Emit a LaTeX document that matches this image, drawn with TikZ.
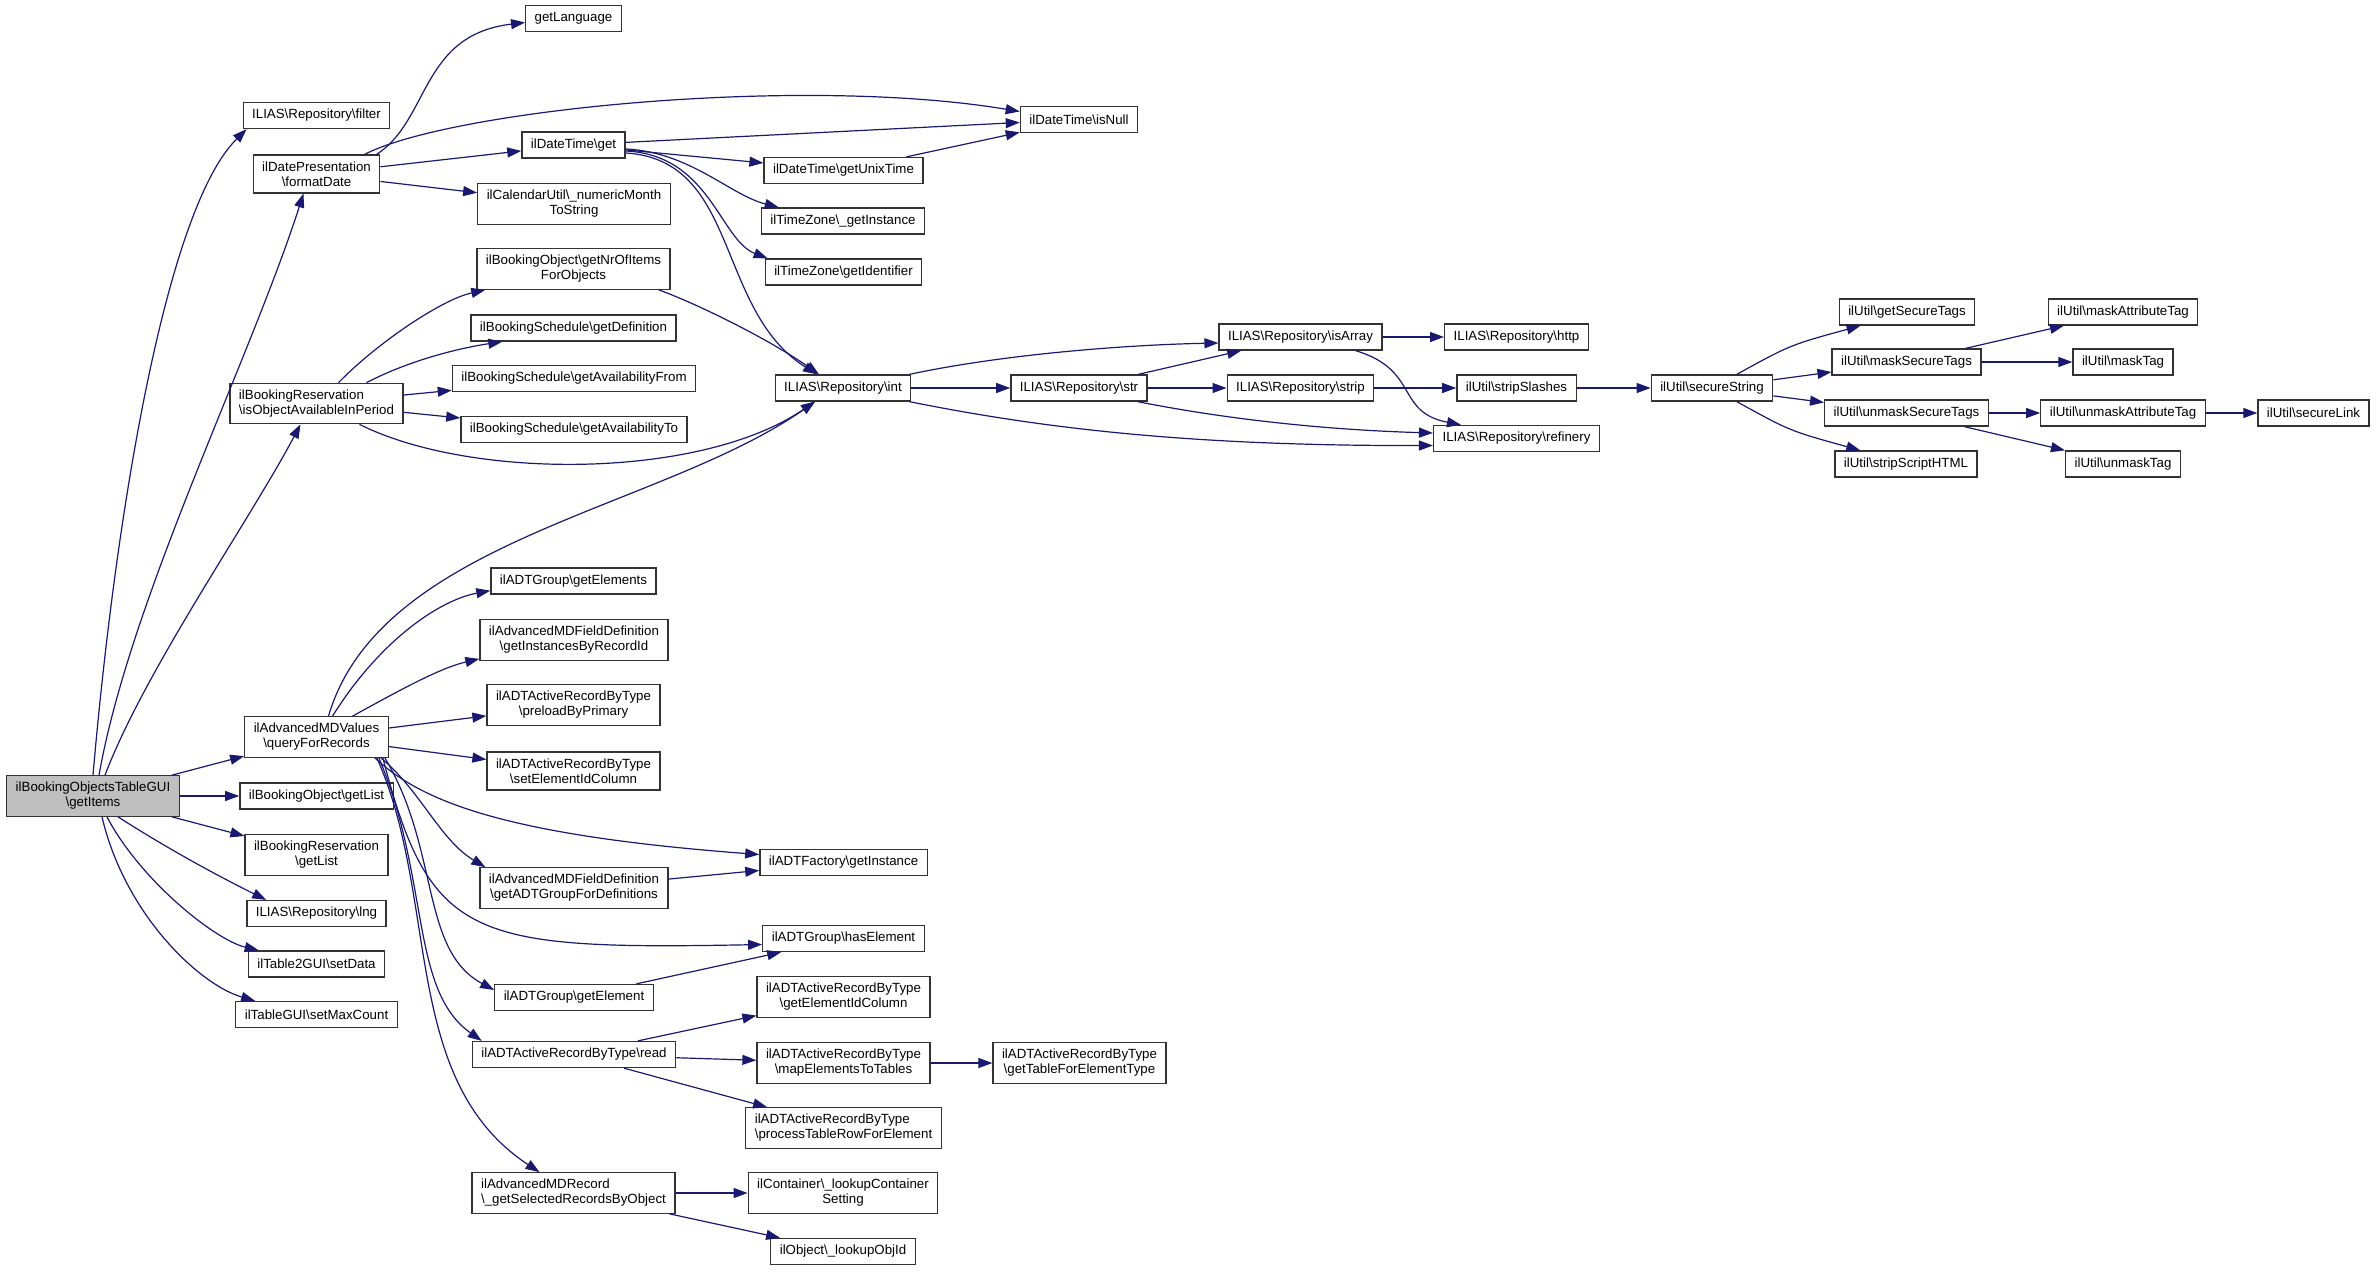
\documentclass[tikz,border=0pt]{standalone}
\usepackage{fontspec}
\usepackage{tikz}
\usetikzlibrary{arrows.meta}
\newfontfamily\graphfont{Liberation Sans}
\definecolor{edgeblue}{HTML}{191970}
\newcommand{\bsl}{\textbackslash{}}

\begin{document}
\begin{tikzpicture}[x=1pt,y=-1pt]
\tikzstyle{fn}=[draw=black!80,line width=1.3pt,fill=white,inner xsep=9pt,inner ysep=6.5pt,minimum height=26pt,align=center,font=\graphfont\fontsize{13.3}{15}\selectfont];
\tikzstyle{root}=[fn,fill=black!25];
\tikzstyle{call}=[draw=edgeblue,line width=1.2pt,-{Triangle[length=14pt,width=10pt]}];
\useasboundingbox (0,0) rectangle (2376,1271);

% callers on the left
\node[root] (root) at (93,796) {ilBookingObjectsTableGUI\\\bsl getItems};
\node[fn] (filter) at (316.5,115.5) {ILIAS\bsl Repository\bsl filter};
\node[fn] (fmtDate) at (316.5,174) {ilDatePresentation\\\bsl formatDate};
\node[fn,align=left] (availPeriod) at (316.5,403.5) {ilBookingReservation\\\bsl isObjectAvailableInPeriod};
\node[fn] (queryRec) at (316.5,737) {ilAdvancedMDValues\\\bsl queryForRecords};
\node[fn] (objList) at (316.5,796) {ilBookingObject\bsl getList};
\node[fn] (resList) at (316.5,855) {ilBookingReservation\\\bsl getList};
\node[fn] (repLng) at (316.5,913.5) {ILIAS\bsl Repository\bsl lng};
\node[fn] (setData) at (316.5,964) {ilTable2GUI\bsl setData};
\node[fn] (maxCount) at (316.5,1014.5) {ilTableGUI\bsl setMaxCount};

% second column
\node[fn] (getLang) at (573.5,18.5) {getLanguage};
\node[fn] (dtGet) at (573.5,145) {ilDateTime\bsl get};
\node[fn] (numMonth) at (574,204) {ilCalendarUtil\bsl\_numericMonth\\ToString};
\node[fn] (nrItems) at (573.5,269) {ilBookingObject\bsl getNrOfItems\\ForObjects};
\node[fn] (schedDef) at (573.5,328) {ilBookingSchedule\bsl getDefinition};
\node[fn] (availFrom) at (574,378.5) {ilBookingSchedule\bsl getAvailabilityFrom};
\node[fn] (availTo) at (574,429.5) {ilBookingSchedule\bsl getAvailabilityTo};
\node[fn] (getElems) at (573.5,581) {ilADTGroup\bsl getElements};
\node[fn] (instByRec) at (574,640) {ilAdvancedMDFieldDefinition\\\bsl getInstancesByRecordId};
\node[fn] (preload) at (573.5,705) {ilADTActiveRecordByType\\\bsl preloadByPrimary};
\node[fn] (setElemCol) at (573.5,771) {ilADTActiveRecordByType\\\bsl setElementIdColumn};
\node[fn] (adtGroupDef) at (574,888) {ilAdvancedMDFieldDefinition\\\bsl getADTGroupForDefinitions};
\node[fn] (getElem) at (574,997.5) {ilADTGroup\bsl getElement};
\node[fn] (arRead) at (574,1054.5) {ilADTActiveRecordByType\bsl read};
\node[fn,align=left] (selRecords) at (573.5,1193) {ilAdvancedMDRecord\\\bsl\_getSelectedRecordsByObject};

% third column
\node[fn] (unixTime) at (843.5,170.5) {ilDateTime\bsl getUnixTime};
\node[fn] (tzInst) at (843,221) {ilTimeZone\bsl\_getInstance};
\node[fn] (tzIdent) at (843.5,272) {ilTimeZone\bsl getIdentifier};
\node[fn] (repInt) at (843,388) {ILIAS\bsl Repository\bsl int};
\node[fn] (factInst) at (843.5,862.5) {ilADTFactory\bsl getInstance};
\node[fn] (hasElem) at (843.5,938.5) {ilADTGroup\bsl hasElement};
\node[fn] (elemIdCol) at (843.5,997) {ilADTActiveRecordByType\\\bsl getElementIdColumn};
\node[fn] (mapElems) at (843.5,1063) {ilADTActiveRecordByType\\\bsl mapElementsToTables};
\node[fn,align=left] (procRow) at (843.5,1128) {ilADTActiveRecordByType\\\bsl processTableRowForElement};
\node[fn] (lookupCont) at (843,1193) {ilContainer\bsl\_lookupContainer\\Setting};
\node[fn] (lookupObj) at (843,1251.5) {ilObject\bsl\_lookupObjId};

% further right
\node[fn] (isNull) at (1079,119.5) {ilDateTime\bsl isNull};
\node[fn] (repStr) at (1079,388) {ILIAS\bsl Repository\bsl str};
\node[fn] (tableType) at (1079.5,1063) {ilADTActiveRecordByType\\\bsl getTableForElementType};
\node[fn] (isArray) at (1300.5,337) {ILIAS\bsl Repository\bsl isArray};
\node[fn] (repStrip) at (1300.5,388) {ILIAS\bsl Repository\bsl strip};
\node[fn] (repHttp) at (1516.5,337) {ILIAS\bsl Repository\bsl http};
\node[fn] (stripSl) at (1516.5,388) {ilUtil\bsl stripSlashes};
\node[fn] (refinery) at (1516.5,438.5) {ILIAS\bsl Repository\bsl refinery};
\node[fn] (secStr) at (1712,388) {ilUtil\bsl secureString};
\node[fn] (getSecTags) at (1907,312) {ilUtil\bsl getSecureTags};
\node[fn] (maskSec) at (1906.5,362) {ilUtil\bsl maskSecureTags};
\node[fn] (unmaskSec) at (1906.5,413) {ilUtil\bsl unmaskSecureTags};
\node[fn] (stripHTML) at (1906,464) {ilUtil\bsl stripScriptHTML};
\node[fn] (maskAttr) at (2123,312) {ilUtil\bsl maskAttributeTag};
\node[fn] (maskTag) at (2123,362) {ilUtil\bsl maskTag};
\node[fn] (unmaskAttr) at (2123,413) {ilUtil\bsl unmaskAttributeTag};
\node[fn] (unmaskTag) at (2123,464) {ilUtil\bsl unmaskTag};
\node[fn] (secLink) at (2313.5,413) {ilUtil\bsl secureLink};

% calls of getItems
\draw[call] (root.north) .. controls (115,520) and (165,210) .. ([xshift=4pt]filter.south west);
\draw[call] ([xshift=6pt]root.north) .. controls (130,600) and (250,360) .. ([xshift=-13pt]fmtDate.south);
\draw[call] ([xshift=12pt]root.north) .. controls (145,670) and (250,520) .. ([xshift=-16pt]availPeriod.south);
\draw[call] (root) -- (queryRec);
\draw[call] (root) -- (objList);
\draw[call] (root) -- (resList);
\draw[call] ([xshift=25pt]root.south) .. controls (168,849) and (220,877) .. ([xshift=20pt]repLng.north west);
\draw[call] ([xshift=14pt]root.south) .. controls (140,880) and (215,940) .. ([xshift=11pt]setData.north west);
\draw[call] ([xshift=9pt]root.south) .. controls (125,915) and (200,985) .. ([xshift=20pt]maxCount.north west);

% date presentation
\draw[call] ([xshift=-4pt]fmtDate.north east) .. controls (430,120) and (420,35) .. ([yshift=-4pt]getLang.west);
\draw[call] ([xshift=-16pt]fmtDate.north east) .. controls (450,110) and (800,75) .. ([yshift=8pt]isNull.west);
\draw[call] (fmtDate) -- (dtGet);
\draw[call] (fmtDate) -- (numMonth);
\draw[call] (dtGet) -- (isNull);
\draw[call] (dtGet) -- (unixTime);
\draw[call] ([yshift=-4pt]dtGet.east) .. controls (690,152) and (730,195) .. ([xshift=18pt]tzInst.north west);
\draw[call] ([yshift=-6pt]dtGet.east) .. controls (710,155) and (720,240) .. ([xshift=3pt]tzIdent.north west);
\draw[call] ([yshift=-8pt]dtGet.east) .. controls (740,160) and (715,310) .. ([xshift=-26pt]repInt.north);
\draw[call] (unixTime) -- (isNull);

% booking reservation
\draw[call] ([xshift=22pt]availPeriod.north) .. controls (375,345) and (440,300) .. ([xshift=9pt]nrItems.south west);
\draw[call] ([xshift=50pt]availPeriod.north) .. controls (410,360) and (460,348) .. ([xshift=32pt]schedDef.south west);
\draw[call] (availPeriod) -- (availFrom);
\draw[call] (availPeriod) -- (availTo);
\draw[call] ([xshift=43pt]availPeriod.south) .. controls (470,480) and (700,480) .. ([xshift=-28pt]repInt.south);
\draw[call] ([xshift=-12pt]nrItems.south east) .. controls (700,305) and (770,340) .. ([xshift=-24pt]repInt.north);

% advanced md values
\draw[call] ([xshift=12pt]queryRec.north) .. controls (380,540) and (660,510) .. ([xshift=-28pt]repInt.south);
\draw[call] ([xshift=16pt]queryRec.north) .. controls (380,640) and (440,600) .. ([yshift=4pt]getElems.south west);
\draw[call] ([xshift=36pt]queryRec.north) .. controls (400,690) and (440,668) .. ([yshift=2pt]instByRec.south west);
\draw[call] (queryRec) -- (preload);
\draw[call] (queryRec) -- (setElemCol);
\draw[call] ([xshift=-14pt]queryRec.south east) .. controls (420,800) and (500,835) .. ([yshift=8pt]factInst.west);
\draw[call] ([xshift=-8pt]queryRec.south east) .. controls (420,790) and (440,840) .. ([xshift=6pt]adtGroupDef.north west);
\draw[call] ([xshift=-6pt]queryRec.south east) .. controls (430,940) and (470,950) .. ([yshift=-6pt]hasElem.west);
\draw[call] ([xshift=-4pt]queryRec.south east) .. controls (440,850) and (420,950) .. ([yshift=7.5pt]getElem.west);
\draw[call] ([xshift=-10pt]queryRec.south east) .. controls (430,880) and (410,990) .. ([xshift=10pt]arRead.north west);
\draw[call] ([xshift=-12pt]queryRec.south east) .. controls (440,900) and (400,1080) .. ([xshift=-34pt]selRecords.north);
\draw[call] (adtGroupDef) -- (factInst);
\draw[call] (getElem) -- (hasElem);
\draw[call] (arRead) -- (elemIdCol);
\draw[call] (arRead) -- (mapElems);
\draw[call] (arRead) -- (procRow);
\draw[call] (mapElems) -- (tableType);
\draw[call] (selRecords) -- (lookupCont);
\draw[call] (selRecords) -- (lookupObj);

% repository
\draw[call] ([xshift=-2pt]repInt.north east) .. controls (1000,355) and (1120,345) .. ([yshift=-6pt]isArray.west);
\draw[call] (repInt) -- (repStr);
\draw[call] ([xshift=-2pt]repInt.south east) .. controls (1050,430) and (1200,446) .. ([yshift=-7pt]refinery.west);
\draw[call] (repStr) -- (isArray);
\draw[call] (repStr) -- (repStrip);
\draw[call] ([xshift=-10pt]repStr.south east) .. controls (1230,420) and (1330,430) .. ([yshift=5.5pt]refinery.west);
\draw[call] (isArray) -- (repHttp);
\draw[call] ([xshift=-27pt]isArray.south east) .. controls (1420,370) and (1395,412) .. ([xshift=28pt]refinery.north west);
\draw[call] (repStrip) -- (stripSl);
\draw[call] (stripSl) -- (secStr);

% secure string
\draw[call] (secStr) .. controls (1790,345) .. ([xshift=22pt]getSecTags.south west);
\draw[call] (secStr) -- (maskSec);
\draw[call] (secStr) -- (unmaskSec);
\draw[call] (secStr) .. controls (1790,431) .. ([xshift=26pt]stripHTML.north west);
\draw[call] (maskSec) -- (maskAttr);
\draw[call] (maskSec) -- (maskTag);
\draw[call] (unmaskSec) -- (unmaskAttr);
\draw[call] (unmaskSec) -- (unmaskTag);
\draw[call] (unmaskAttr) -- (secLink);
\end{tikzpicture}
\end{document}
